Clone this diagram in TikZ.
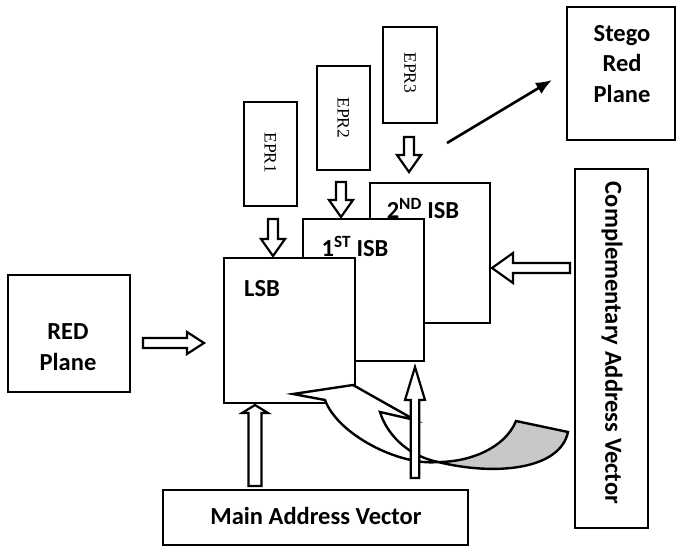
\documentclass[tikz,border=0pt]{standalone}
\usepackage{fontspec}
\setmainfont{Carlito}
\newfontfamily\eprfont{Liberation Serif}
\usetikzlibrary{arrows.meta,calc}
\newcommand{\hollowarrow}[6]{%
  \draw[blockarrow, shift={#1}, rotate=#2] (0,-#4) -- ({#3-#6},-#4) -- ({#3-#6},-#5) -- (#3,0) -- ({#3-#6},#5) -- ({#3-#6},#4) -- (0,#4) -- cycle;}
\tikzset{
  box/.style={draw, line width=2.8pt, fill=white, inner sep=0pt},
  boxtext/.style={font=\bfseries\fontsize{24.5}{30.5}\selectfont, align=center, inner sep=0pt},
  eprtext/.style={font=\eprfont\fontsize{17.5}{20}\selectfont, rotate=-90, inner sep=0pt},
  blockarrow/.style={draw, line width=2.2pt, fill=white, line join=miter},
  curvearrow/.style={draw, line width=2.4pt, line join=miter}
}
\begin{document}
\begin{tikzpicture}[x=1pt,y=-1pt]
\useasboundingbox (0,0) rectangle (680,548);
% boxes
\node[box, minimum width=122pt, minimum height=117pt] (red) at (69,333.5) {};
\node[boxtext] (redt) at (68,347) {RED\\Plane};
\node[box, minimum width=108pt, minimum height=133pt] (stego) at (621,73.5) {};
\node[boxtext] (stegot) at (622,64) {Stego\\Red\\Plane};
\node[box, minimum width=73pt, minimum height=359pt] (comp) at (611.5,348.5) {};
\node[boxtext, rotate=-90] (compt) at (612,343) {Complementary Address Vector};
\node[box, minimum width=305pt, minimum height=55pt] (main) at (315.5,517.5) {};
\node[boxtext] (maint) at (316,516) {Main Address Vector};
\node[box, minimum width=53pt, minimum height=104pt] (epr1) at (270.5,154) {};
\node[eprtext] (epr1t) at (270.5,153) {EPR1};
\node[box, minimum width=53pt, minimum height=104pt] (epr2) at (343.5,118) {};
\node[eprtext] (epr2t) at (343.5,118) {EPR2};
\node[box, minimum width=54pt, minimum height=96pt] (epr3) at (410,75) {};
\node[eprtext] (epr3t) at (410,73) {EPR3};
\node[box, minimum width=120pt, minimum height=140pt] (isb2) at (430,253) {};
\node[boxtext] (isb2t) at (423,209) {2\textsuperscript{ND} ISB};
\node[box, minimum width=121pt, minimum height=142pt] (isb1) at (363.5,290) {};
\node[boxtext] (isb1t) at (355,246) {1\textsuperscript{ST} ISB};
\node[box, minimum width=131pt, minimum height=145pt] (lsb) at (289.5,330.5) {};
\node[boxtext] (lsbt) at (262,289) {LSB};
% block arrows
\hollowarrow{(143,343)}{0}{61}{5}{11}{17}
\hollowarrow{(273,219)}{-90}{37}{5}{12}{17}
\hollowarrow{(341,182)}{-90}{35}{5}{12}{17}
\hollowarrow{(409,137)}{-90}{35}{5}{12}{17}
\hollowarrow{(570,268)}{180}{78}{5}{15}{21}
\hollowarrow{(255,486)}{90}{81}{6.5}{13}{8}
% curved twisted arrow
\draw[curvearrow, fill=white] (293,394) -- (353,385) -- (415,420) -- (380,412)
  .. controls (386,432) and (405,455) .. (438,462)
  .. controls (400,466) and (338,435) .. (325,400) -- cycle;
\draw[curvearrow, fill={rgb,255:red,200;green,200;blue,200}] (438,462)
  .. controls (470,462) and (505,448) .. (516,421) -- (568,432)
  .. controls (560,470) and (495,476) .. (438,462) -- cycle;
\hollowarrow{(415,478)}{90}{111}{4.3}{10}{33}
% thin arrow to stego
\coordinate (s0) at (447,143);
\coordinate (s1) at (552,80);
\draw[line width=2.6pt, -{Latex[length=16pt,width=13pt]}] (s0) -- (s1);
\end{tikzpicture}
\end{document}
